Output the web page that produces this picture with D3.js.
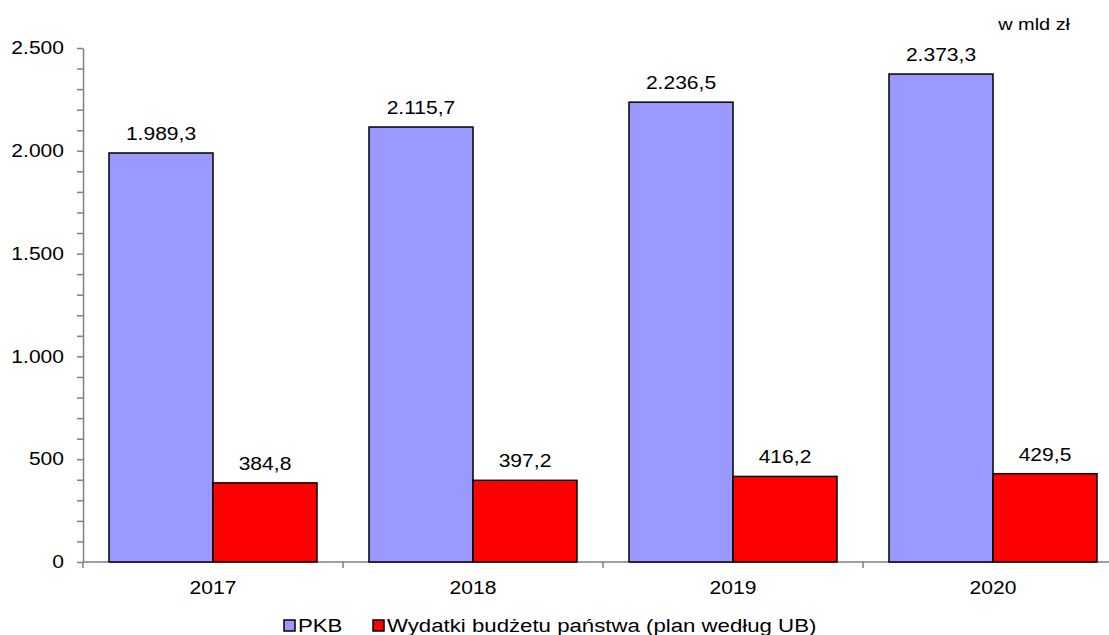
<!DOCTYPE html>
<html>
<head>
<meta charset="utf-8">
<script src="https://cdn.jsdelivr.net/npm/d3@7"></script>
<style>
  body { margin: 0; background: #fff; }
  svg { display: block; font-family: 'Liberation Sans', Arial, sans-serif; }
  .axis path, .axis line { stroke: #808080; stroke-width: 1.5; }
  .axis text { font-size: 18px; fill: #000; }
</style>
</head>
<body>
<div id="canvas"></div>
<script>
const years = ['2017', '2018', '2019', '2020'];
const pkb = [1989.3, 2115.7, 2236.5, 2373.3];
const wydatki = [384.8, 397.2, 416.2, 429.5];
const seriesNames = ['PKB', 'Wydatki budżetu państwa (plan według UB)'];
const seriesColors = ['#9999ff', '#ff0000'];
const yMax = 2500;
const yMajorTicks = [0, 500, 1000, 1500, 2000, 2500];
const unitLabel = 'w mld zł';

const w = 1109;
const h = 635;
const sx = 1.17; // text in the picture is a bit wider than the font

const pl = d3.formatLocale({ decimal: ',', thousands: '.', grouping: [3], currency: ['', ' zł'] });
const fmtVal = pl.format(',.1f');
const fmtTick = pl.format(',.0f');

// move x/y into a transform so the glyphs can be stretched sideways
function stretch(sel) {
  sel.each(function() {
    const t = d3.select(this);
    const x = +t.attr('x') || 0;
    const y = +t.attr('y') || 0;
    t.attr('x', 0).attr('y', 0)
      .attr('transform', 'translate(' + x + ',' + y + ') scale(' + sx + ',1)');
  });
}

const svg = d3.select('#canvas')
  .append('svg')
  .attr('width', w)
  .attr('height', h);

// category axis runs past the right edge, as in the picture
const x0 = d3.scaleBand()
  .domain(years)
  .range([83, 1123])
  .paddingInner(0)
  .paddingOuter(0);

const x1 = d3.scaleBand()
  .domain([0, 1])
  .range([0, x0.bandwidth()])
  .paddingInner(0)
  .paddingOuter(0.25);

const y = d3.scaleLinear()
  .domain([0, yMax])
  .range([562, 48]);

// y axis with minor ticks every 100
const yAxis = d3.axisLeft(y)
  .tickValues(d3.range(0, yMax + 1, 100))
  .tickSize(6)
  .tickSizeOuter(0)
  .tickFormat(d => yMajorTicks.includes(d) ? fmtTick(d) : '');

svg.append('g')
  .attr('class', 'axis')
  .attr('transform', 'translate(83, 0)')
  .call(yAxis)
  .call(g => g.selectAll('text').attr('x', -19).call(stretch));

// x axis: ticks at category boundaries
const bounds = years.map(d => x0(d)).concat([x0.range()[1]]);
const xg = svg.append('g').attr('class', 'axis');
xg.append('line')
  .attr('x1', x0.range()[0]).attr('x2', x0.range()[1])
  .attr('y1', y(0)).attr('y2', y(0));
xg.selectAll('line.tick')
  .data(bounds)
  .enter()
  .append('line')
  .attr('class', 'tick')
  .attr('x1', d => d).attr('x2', d => d)
  .attr('y1', y(0)).attr('y2', y(0) + 6);
xg.selectAll('text')
  .data(years)
  .enter()
  .append('text')
  .attr('x', d => x0(d) + x0.bandwidth() / 2)
  .attr('y', 594)
  .attr('text-anchor', 'middle')
  .text(d => d)
  .call(stretch);

const rows = years.map((yr, i) => ({ yr: yr, vals: [pkb[i], wydatki[i]] }));

const groups = svg.selectAll('g.cat')
  .data(rows)
  .enter()
  .append('g')
  .attr('class', 'cat')
  .attr('transform', d => 'translate(' + x0(d.yr) + ', 0)');

groups.selectAll('rect')
  .data(d => d.vals.map((v, k) => ({ v: v, k: k })))
  .enter()
  .append('rect')
  .attr('x', d => x1(d.k))
  .attr('y', d => y(d.v))
  .attr('width', x1.bandwidth())
  .attr('height', d => y(0) - y(d.v))
  .attr('fill', d => seriesColors[d.k])
  .attr('stroke', '#000')
  .attr('stroke-width', 1.5);

groups.selectAll('text')
  .data(d => d.vals.map((v, k) => ({ v: v, k: k })))
  .enter()
  .append('text')
  .attr('x', d => x1(d.k) + x1.bandwidth() / 2)
  .attr('y', d => y(d.v) - 13)
  .attr('text-anchor', 'middle')
  .style('font-size', '18px')
  .text(d => fmtVal(d.v))
  .call(stretch);

svg.append('text')
  .attr('x', 1070)
  .attr('y', 30)
  .attr('text-anchor', 'end')
  .style('font-size', '17px')
  .text(unitLabel)
  .call(stretch);

// legend
const legendX = [284, 373];
const leg = svg.selectAll('g.leg')
  .data(seriesNames)
  .enter()
  .append('g')
  .attr('class', 'leg')
  .attr('transform', (d, i) => 'translate(' + legendX[i] + ', 620)');
leg.append('rect')
  .attr('width', 11).attr('height', 11)
  .attr('fill', (d, i) => seriesColors[i])
  .attr('stroke', '#000')
  .attr('stroke-width', 1.5);
leg.append('text')
  .attr('x', 14)
  .attr('y', 12)
  .style('font-size', '19px')
  .text(d => d)
  .call(stretch);
</script>
</body>
</html>
